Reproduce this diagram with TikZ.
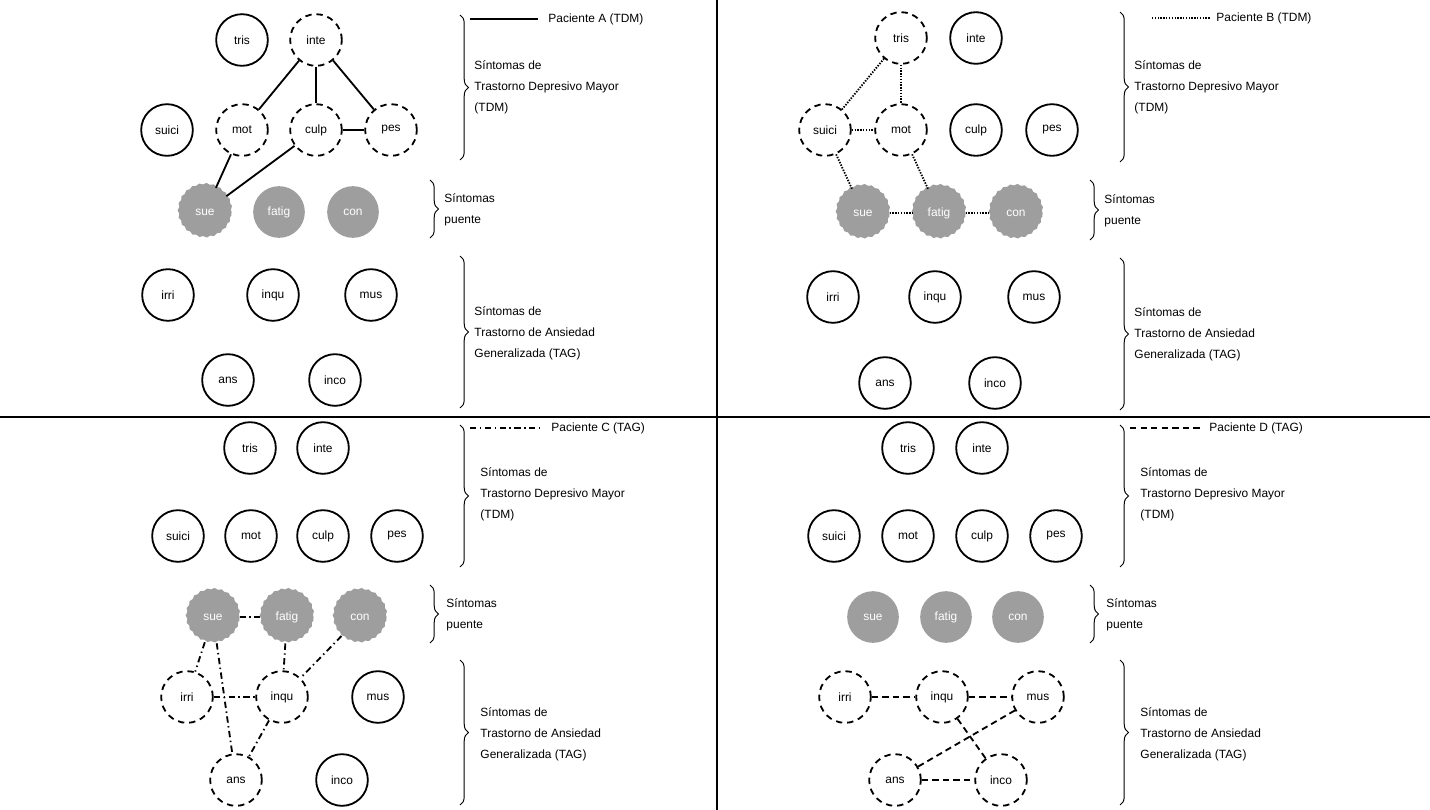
\documentclass[tikz,border=0pt]{standalone}
\usepackage{fontspec}
\setmainfont{Liberation Sans}
\usetikzlibrary{decorations.pathmorphing,decorations.pathreplacing}
\begin{document}
\begin{tikzpicture}[x=0.05cm,y=-0.05cm,
  every node/.style={font=\fontsize{17}{30}\selectfont},
  s/.style={circle,draw,line width=2.6pt,minimum size=73.5pt,inner sep=0pt},
  d/.style={s,dash pattern=on 9pt off 7pt},
  g/.style={circle,fill=black!38,text=white,minimum size=73.5pt,inner sep=0pt},
  w/.style={g,draw=black!38,line width=2pt,decorate,decoration={snake,amplitude=1pt,segment length=10pt}},
  ea/.style={line width=2.6pt},
  eb/.style={line width=2.6pt,dash pattern=on 2pt off 2pt},
  ec/.style={line width=2.6pt,dash pattern=on 9pt off 5pt on 2pt off 5pt},
  ed/.style={line width=2.6pt,dash pattern=on 9pt off 6pt},
  br/.style={line width=1.4pt,decorate,decoration={brace,amplitude=12pt}},
  lab/.style={anchor=west,align=left}]
\useasboundingbox (0,0) rectangle (1430,810);
\draw[line width=2.6pt] (717,0) -- (717,810);
\draw[line width=2.6pt] (0,417) -- (1430,417);
% ---------- A
\node[s] (atris) at (242,40) {tris};
\node[d] (ainte) at (316,40) {inte};
\node[s] (asuici) at (167,130) {suici};
\node[d] (amot) at (242,130) {mot};
\node[d] (aculp) at (316,130) {culp};
\node[d] (apes) at (391,130) {pes};
\node[w] (asue) at (205,212) {sue};
\node[g] (afatig) at (279,212) {fatig};
\node[g] (acon) at (353,212) {con};
\node[s] (airri) at (168,295) {irri};
\node[s] (ainqu) at (273,295) {inqu};
\node[s] (amus) at (371,295) {mus};
\node[s] (aans) at (228,380) {ans};
\node[s] (ainco) at (335,380) {inco};
\draw[ea] (ainte) -- (amot); \draw[ea] (ainte) -- (aculp); \draw[ea] (ainte) -- (apes);
\draw[ea] (aculp) -- (apes); \draw[ea] (amot) -- (asue); \draw[ea] (aculp) -- (asue);
\draw[br] (460,15) -- (460,160); \draw[br] (430,180) -- (430,238); \draw[br] (460,256) -- (460,408);
\node[lab] (al1) at (472,87) {Síntomas de\\Trastorno Depresivo Mayor\\(TDM)};
\node[lab] (al2) at (442,210) {Síntomas\\puente};
\node[lab] (al3) at (472,333) {Síntomas de\\Trastorno de Ansiedad\\Generalizada (TAG)};
\coordinate (aL1) at (470,19); \coordinate (aL2) at (538,19);
\draw[ea] (aL1) -- (aL2);
\node[anchor=west] (alg) at (546,19) {Paciente A (TDM)};
% ---------- B
\node[d] (btris) at (901,38) {tris};
\node[s] (binte) at (976,38) {inte};
\node[d] (bsuici) at (825,130) {suici};
\node[d] (bmot) at (901,130) {mot};
\node[s] (bculp) at (976,130) {culp};
\node[s] (bpes) at (1052,130) {pes};
\node[w] (bsue) at (863,213) {sue};
\node[w] (bfatig) at (939,213) {fatig};
\node[w] (bcon) at (1016,213) {con};
\node[s] (birri) at (833,297) {irri};
\node[s] (binqu) at (935,297) {inqu};
\node[s] (bmus) at (1034,297) {mus};
\node[s] (bans) at (885,383) {ans};
\node[s] (binco) at (995,383) {inco};
\draw[eb] (btris) -- (bsuici); \draw[eb] (btris) -- (bmot); \draw[eb] (bsuici) -- (bmot);
\draw[eb] (bsuici) -- (bsue); \draw[eb] (bmot) -- (bfatig); \draw[eb] (bsue) -- (bfatig); \draw[eb] (bfatig) -- (bcon);
\draw[br] (1120,12) -- (1120,162); \draw[br] (1090,180) -- (1090,240); \draw[br] (1120,258) -- (1120,410);
\node[lab] (bl1) at (1132,87) {Síntomas de\\Trastorno Depresivo Mayor\\(TDM)};
\node[lab] (bl2) at (1102,211) {Síntomas\\puente};
\node[lab] (bl3) at (1132,334) {Síntomas de\\Trastorno de Ansiedad\\Generalizada (TAG)};
\coordinate (bL1) at (1152,18); \coordinate (bL2) at (1210,18);
\draw[eb] (bL1) -- (bL2);
\node[anchor=west] (blg) at (1214,18) {Paciente B (TDM)};
% ---------- C
\node[s] (ctris) at (250,448) {tris};
\node[s] (cinte) at (323,448) {inte};
\node[s] (csuici) at (178,536) {suici};
\node[s] (cmot) at (251,536) {mot};
\node[s] (cculp) at (323,536) {culp};
\node[s] (cpes) at (397,536) {pes};
\node[w] (csue) at (213,617) {sue};
\node[w] (cfatig) at (287,617) {fatig};
\node[w] (ccon) at (360,617) {con};
\node[d] (cirri) at (187,697) {irri};
\node[d] (cinqu) at (282,697) {inqu};
\node[s] (cmus) at (378,697) {mus};
\node[d] (cans) at (236,780) {ans};
\node[s] (cinco) at (342,780) {inco};
\draw[ec] (csue) -- (cfatig); \draw[ec] (csue) -- (cirri); \draw[ec] (csue) -- (cans);
\draw[ec] (cfatig) -- (cinqu); \draw[ec] (ccon) -- (cinqu); \draw[ec] (cirri) -- (cinqu); \draw[ec] (cinqu) -- (cans);
\draw[br] (460,425) -- (460,567); \draw[br] (430,585) -- (430,643); \draw[br] (460,660) -- (460,805);
\node[lab] (cl1) at (478,494) {Síntomas de\\Trastorno Depresivo Mayor\\(TDM)};
\node[lab] (cl2) at (444,615) {Síntomas\\puente};
\node[lab] (cl3) at (478,734) {Síntomas de\\Trastorno de Ansiedad\\Generalizada (TAG)};
\coordinate (cL1) at (470,428); \coordinate (cL2) at (540,428);
\draw[ec] (cL1) -- (cL2);
\node[anchor=west] (clg) at (549,428) {Paciente C (TAG)};
% ---------- D
\node[s] (dtris) at (908,448) {tris};
\node[s] (dinte) at (982,448) {inte};
\node[s] (dsuici) at (834,536) {suici};
\node[s] (dmot) at (908,536) {mot};
\node[s] (dculp) at (982,536) {culp};
\node[s] (dpes) at (1056,536) {pes};
\node[g] (dsue) at (873,617) {sue};
\node[g] (dfatig) at (946,617) {fatig};
\node[g] (dcon) at (1018,617) {con};
\node[d] (dirri) at (845,697) {irri};
\node[d] (dinqu) at (942,697) {inqu};
\node[d] (dmus) at (1038,697) {mus};
\node[d] (dans) at (895,780) {ans};
\node[d] (dinco) at (1001,780) {inco};
\draw[ed] (dirri) -- (dinqu); \draw[ed] (dinqu) -- (dmus); \draw[ed] (dinqu) -- (dinco);
\draw[ed] (dmus) -- (dans); \draw[ed] (dans) -- (dinco);
\draw[br] (1120,425) -- (1120,567); \draw[br] (1090,585) -- (1090,643); \draw[br] (1120,660) -- (1120,805);
\node[lab] (dl1) at (1138,494) {Síntomas de\\Trastorno Depresivo Mayor\\(TDM)};
\node[lab] (dl2) at (1104,615) {Síntomas\\puente};
\node[lab] (dl3) at (1138,734) {Síntomas de\\Trastorno de Ansiedad\\Generalizada (TAG)};
\coordinate (dL1) at (1130,428); \coordinate (dL2) at (1200,428);
\draw[ed] (dL1) -- (dL2);
\node[anchor=west] (dlg) at (1207,428) {Paciente D (TAG)};
\end{tikzpicture}
\end{document}
